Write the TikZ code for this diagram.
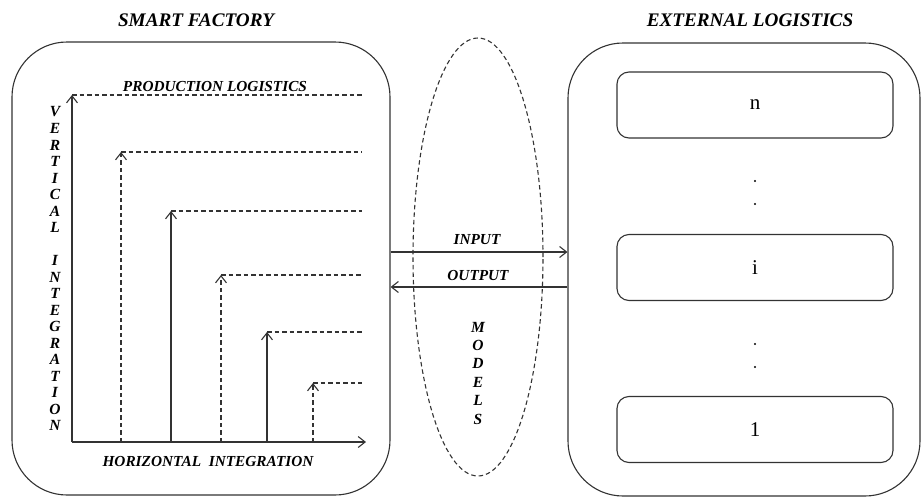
\documentclass[tikz,border=0pt]{standalone}
\usepackage{fontspec}
\setmainfont{Liberation Serif}
\usetikzlibrary{arrows.meta,shapes.geometric}
\definecolor{lineclr}{HTML}{333333}
\begin{document}
\begin{tikzpicture}[x=1pt,y=-1pt,
  line/.style={draw=lineclr, line width=1.1pt},
  dsh/.style={dash pattern=on 4.5pt off 3pt},
  tip/.style={-{Straight Barb[length=7pt,width=11pt]}},
  title/.style={font=\fontsize{19.2}{20}\selectfont\bfseries\itshape, inner sep=0pt},
  lbl/.style={font=\fontsize{15.3}{16}\selectfont\bfseries\itshape, inner sep=0pt},
  letter/.style={font=\fontsize{15.5}{16}\selectfont\bfseries\itshape, inner sep=0pt},
  bigbox/.style={line, rounded corners=55pt, minimum width=#1, minimum height=453pt, inner sep=0pt},
  levelbox/.style={line, rounded corners=12pt, minimum width=276pt, minimum height=66pt,
    font=\fontsize{21}{21}\selectfont, inner sep=0pt},
  dot/.style={circle, fill=black, inner sep=0pt, minimum size=2.4pt}]
\useasboundingbox (0,0) rectangle (922,498);

% titles
\node[title] (sf) at (196,20) {SMART FACTORY};
\node[title] (el) at (750,20) {EXTERNAL LOGISTICS};

% outer frames
\node[bigbox=378pt] (fac) at (201,268.5) {};
\node[bigbox=352pt] (ext) at (744,269.5) {};

% external logistics levels
\node[levelbox] (ln) at (755,105) {n};
\node[levelbox] (li) at (755,267.5) {i};
\node[levelbox] (l1) at (755,429.5) {1};
\node[dot] (d1) at (755,181) {};
\node[dot] (d2) at (755,204) {};
\node[dot] (d3) at (755,344) {};
\node[dot] (d4) at (755,367) {};

% models
\node[line, dsh, ellipse, minimum width=130pt, minimum height=438pt, inner sep=0pt] (mod) at (478,257) {};
\foreach \c [count=\k from 0] in {M,O,D,E,L,S}
  \node[letter] (m\k) at (478,327+18.4*\k) {\c};

% input / output flows
\coordinate (yin) at (0,252);
\coordinate (yout) at (0,287);
\node[lbl] (inl) at (477,240) {INPUT};
\node[lbl] (outl) at (478,276) {OUTPUT};
\draw[line,tip] (fac.east |- yin) -- (ext.west |- yin);
\draw[line,tip] (ext.west |- yout) -- (fac.east |- yout);

% integration axes
\coordinate (O) at (72,442);
\coordinate (xe) at (366,442);
\draw[line,tip] (O) -- (xe);
\foreach \x/\y/\s [count=\i] in {72/95/solid,121/152/dsh,171/211/solid,221/275/dsh,267/332/solid,313/383/dsh}{
  \coordinate (b\i) at (\x,442);
  \coordinate (t\i) at (\x,\y);
  \coordinate (e\i) at (362,\y);
  \draw[line,tip,\s] (b\i) -- (t\i);
  \draw[line,dsh] (t\i) -- (e\i);
}

\node[lbl] (pl) at (215,87) {PRODUCTION LOGISTICS};
\node[lbl] (hi) at (208,462) {HORIZONTAL\ \ INTEGRATION};
\foreach \c [count=\k from 0] in {V,E,R,T,I,C,A,L,{},I,N,T,E,G,R,A,T,I,O,N}
  \node[letter] (v\k) at (55,112+16.5*\k) {\c};
\end{tikzpicture}
\end{document}
